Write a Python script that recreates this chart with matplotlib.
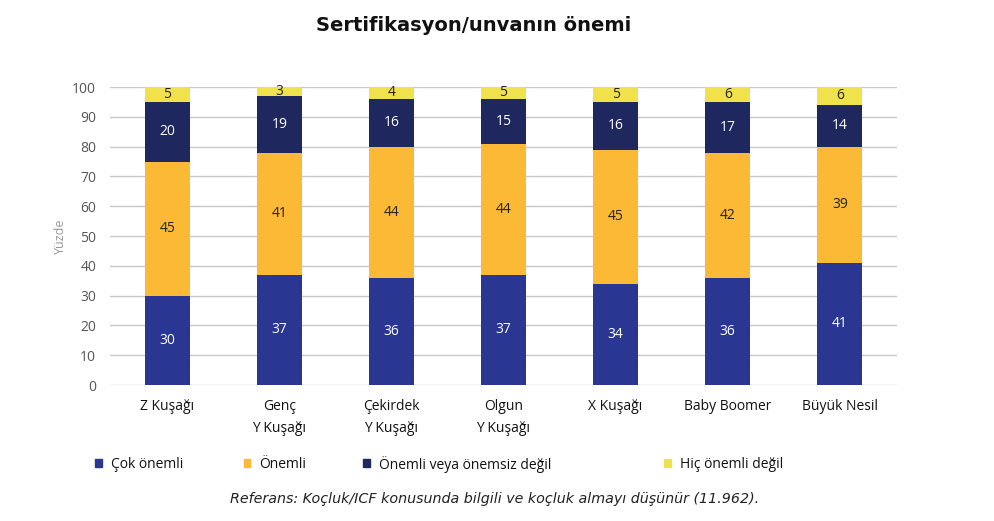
import matplotlib.pyplot as plt
from matplotlib.patches import Rectangle

categories = ["Z Kuşağı", "Genç\nY Kuşağı", "Çekirdek\nY Kuşağı", "Olgun\nY Kuşağı",
              "X Kuşağı", "Baby Boomer", "Büyük Nesil"]
cok_onemli = [30, 37, 36, 37, 34, 36, 41]
onemli = [45, 41, 44, 44, 45, 42, 39]
notr = [20, 19, 16, 15, 16, 17, 14]
hic_onemli = [5, 3, 4, 5, 5, 6, 6]

series_names = ["Çok önemli", "Önemli", "Önemli veya önemsiz değil", "Hiç önemli değil"]
series = [cok_onemli, onemli, notr, hic_onemli]
colors = ["#2a3792", "#fbb935", "#1f285e", "#efe24c"]
text_colors = ["white", "#222222", "white", "#222222"]

fig = plt.figure(figsize=(9.94, 5.21), dpi=100)
ax = fig.add_axes([0.1107, 0.261, 0.7917, 0.572])

x = list(range(len(categories)))
bottom = [0] * len(categories)
for vals, col, tcol in zip(series, colors, text_colors):
    bars = ax.bar(x, vals, width=0.4, bottom=bottom, color=col, zorder=3)
    for b, v, y0 in zip(bars, vals, bottom):
        yc = (y0 + min(y0 + v, 100)) / 2
        ax.text(b.get_x() + b.get_width() / 2, yc, str(v), ha="center", va="center",
                color=tcol, fontsize=10, family="Open Sans", zorder=4)
    bottom = [a + b for a, b in zip(bottom, vals)]

ax.set_xlim(-0.51, 6.51)
ax.set_ylim(0, 100)
ax.set_yticks(range(0, 101, 10))
ax.yaxis.grid(True, color="#c8c8c8", linewidth=1, zorder=0)
ax.set_axisbelow(True)
for s in ax.spines.values():
    s.set_visible(False)
ax.tick_params(axis="y", length=0, pad=10, labelsize=10, labelcolor="#555555")
ax.tick_params(axis="x", length=0, pad=10)
ax.set_xticks(x)
ax.set_xticklabels(categories, fontsize=10, family="Open Sans", color="#111111",
                   linespacing=1.6, va="top")
for lab in ax.get_yticklabels():
    lab.set_family("Open Sans")
ax.set_ylabel("Yüzde", fontsize=9, color="#999999", family="Open Sans", labelpad=4)

fig.text(0.476, 0.952, "Sertifikasyon/unvanın önemi", ha="center", va="center",
         fontsize=14, fontweight="bold", family="DejaVu Sans", color="#111111")

# legend
leg_x = [0.096, 0.245, 0.365, 0.668]
for lx, name, col in zip(leg_x, series_names, colors):
    fig.patches.append(Rectangle((lx, 0.104), 0.007, 0.015, transform=fig.transFigure,
                                 color=col, figure=fig))
    fig.text(lx + 0.016, 0.109, name, ha="left", va="center", fontsize=10,
             family="Open Sans", color="#111111")

fig.text(0.4975, 0.043, "Referans: Koçluk/ICF konusunda bilgili ve koçluk almayı düşünür (11.962).",
         ha="center", va="center", fontsize=10.3, style="italic", family="DejaVu Sans",
         color="#222222")

fig.savefig("out.png", dpi=100)
